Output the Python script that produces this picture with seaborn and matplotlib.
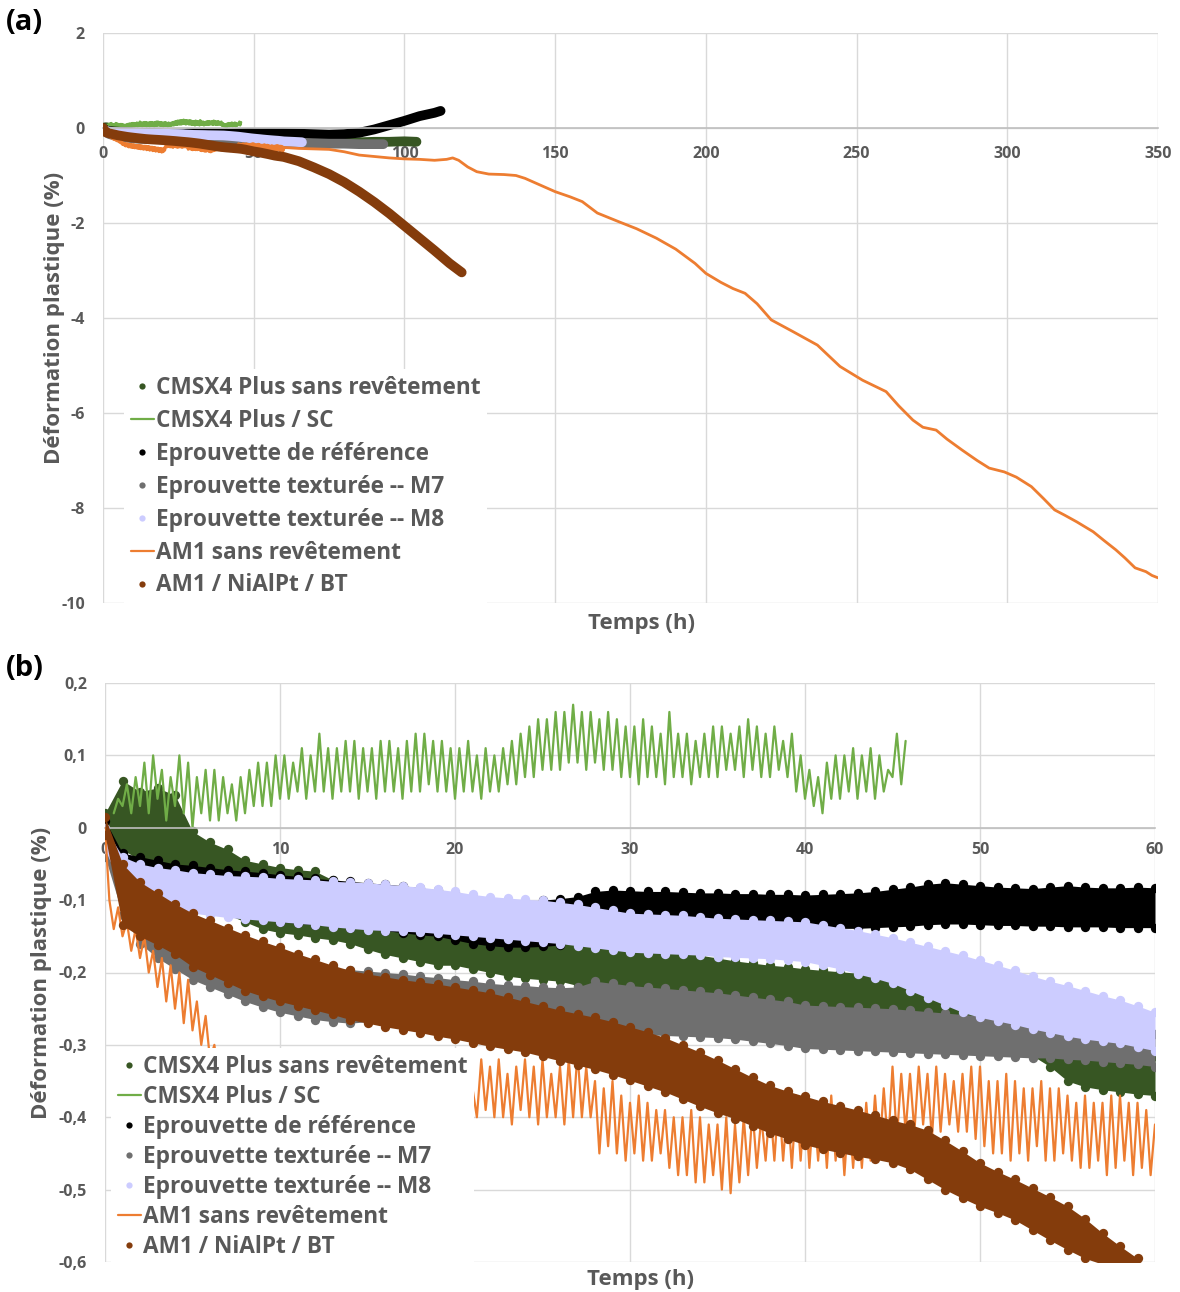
import numpy as np
import pandas as pd
import matplotlib
matplotlib.use("Agg")
import matplotlib.pyplot as plt
from matplotlib.lines import Line2D
import seaborn as sns

sns.set_theme(style="white")
plt.rcParams['font.family'] = ['Open Sans', 'DejaVu Sans']
plt.rcParams['font.weight'] = 'bold'

# ---------------- data ----------------
labels = ["CMSX4 Plus sans revêtement", "CMSX4 Plus / SC", "Eprouvette de référence",
          "Eprouvette texturée -- M7", "Eprouvette texturée -- M8",
          "AM1 sans revêtement", "AM1 / NiAlPt / BT"]
kinds = ["dot", "line", "dot", "dot", "dot", "line", "dot"]
colors = ["#375623", "#70AD47", "#000000", "#6F6F6F", "#CCCCFF", "#ED7D31", "#843C0C"]

t_hours = np.arange(0, 61)      # hourly readings, panel (b)
t_brown = np.arange(0, 60)

# upper / lower edge of each dotted band (%), read hour by hour
dg_hi = [0.02, 0.065, 0.05, 0.055, 0.045, -0.005, -0.02, -0.03, -0.045, -0.05,
         -0.055, -0.058, -0.06, -0.072, -0.08, -0.085, -0.09, -0.095, -0.1, -0.105,
         -0.11, -0.12, -0.13, -0.135, -0.14, -0.145, -0.15, -0.152, -0.155, -0.158,
         -0.16, -0.164, -0.168, -0.172, -0.176, -0.18, -0.184, -0.187, -0.19, -0.192,
         -0.195, -0.197, -0.199, -0.201, -0.203, -0.205, -0.21, -0.215, -0.22, -0.228,
         -0.235, -0.243, -0.25, -0.26, -0.275, -0.3, -0.305, -0.308, -0.31, -0.312,
         -0.315]
dg_lo = [-0.01, -0.03, -0.045, -0.06, -0.08, -0.1, -0.115, -0.12, -0.13, -0.14,
         -0.145, -0.148, -0.152, -0.155, -0.16, -0.168, -0.175, -0.18, -0.185, -0.19,
         -0.19, -0.195, -0.2, -0.205, -0.208, -0.21, -0.212, -0.218, -0.225, -0.228,
         -0.23, -0.233, -0.236, -0.239, -0.242, -0.245, -0.248, -0.25, -0.252, -0.254,
         -0.255, -0.257, -0.259, -0.261, -0.263, -0.265, -0.267, -0.268, -0.27, -0.275,
         -0.28, -0.29, -0.3, -0.315, -0.33, -0.35, -0.358, -0.362, -0.365, -0.368,
         -0.37]
ref_hi = [0.01, -0.035, -0.04, -0.045, -0.05, -0.052, -0.055, -0.058, -0.06, -0.062,
          -0.065, -0.067, -0.07, -0.072, -0.074, -0.076, -0.078, -0.08, -0.083, -0.086,
          -0.09, -0.095, -0.1, -0.1, -0.102, -0.1, -0.098, -0.095, -0.088, -0.086,
          -0.087, -0.088, -0.088, -0.089, -0.09, -0.09, -0.091, -0.091, -0.092, -0.092,
          -0.093, -0.092, -0.091, -0.09, -0.088, -0.085, -0.082, -0.078, -0.076, -0.078,
          -0.08, -0.082, -0.083, -0.084, -0.082, -0.08, -0.082, -0.083, -0.083, -0.082,
          -0.083]
ref_lo = [-0.01, -0.07, -0.085, -0.095, -0.1, -0.105, -0.11, -0.115, -0.12, -0.125,
          -0.13, -0.132, -0.134, -0.136, -0.138, -0.14, -0.142, -0.145, -0.148, -0.15,
          -0.155, -0.16, -0.163, -0.165, -0.165, -0.164, -0.162, -0.158, -0.145, -0.142,
          -0.14, -0.139, -0.139, -0.138, -0.138, -0.138, -0.137, -0.137, -0.137, -0.136,
          -0.137, -0.138, -0.139, -0.139, -0.138, -0.137, -0.136, -0.134, -0.133, -0.133,
          -0.134, -0.135, -0.135, -0.136, -0.136, -0.137, -0.137, -0.137, -0.138, -0.138,
          -0.138]
m7_hi = [-0.01, -0.06, -0.09, -0.11, -0.13, -0.145, -0.155, -0.163, -0.17, -0.175,
         -0.18, -0.185, -0.19, -0.193, -0.196, -0.198, -0.2, -0.202, -0.205, -0.207,
         -0.21, -0.212, -0.215, -0.217, -0.218, -0.22, -0.221, -0.22, -0.212, -0.215,
         -0.218, -0.22, -0.222, -0.224, -0.226, -0.228, -0.231, -0.234, -0.237, -0.24,
         -0.245, -0.246, -0.247, -0.248, -0.249, -0.25, -0.252, -0.254, -0.256, -0.258,
         -0.26, -0.262, -0.264, -0.266, -0.268, -0.27, -0.273, -0.276, -0.279, -0.282,
         -0.285]
m7_lo = [-0.04, -0.12, -0.16, -0.18, -0.195, -0.21, -0.22, -0.23, -0.24, -0.248,
         -0.255, -0.26, -0.265, -0.268, -0.27, -0.268, -0.266, -0.265, -0.265, -0.265,
         -0.265, -0.267, -0.27, -0.272, -0.274, -0.275, -0.276, -0.278, -0.28, -0.282,
         -0.285, -0.286, -0.287, -0.288, -0.289, -0.29, -0.292, -0.295, -0.298, -0.301,
         -0.305, -0.306, -0.307, -0.308, -0.309, -0.31, -0.311, -0.312, -0.313, -0.314,
         -0.315, -0.316, -0.317, -0.318, -0.318, -0.32, -0.321, -0.323, -0.325, -0.327,
         -0.33]
m8_hi = [0.0, -0.04, -0.05, -0.055, -0.058, -0.062, -0.064, -0.066, -0.067, -0.068,
         -0.07, -0.071, -0.072, -0.074, -0.075, -0.076, -0.078, -0.08, -0.082, -0.085,
         -0.088, -0.092, -0.095, -0.097, -0.099, -0.1, -0.103, -0.106, -0.11, -0.114,
         -0.118, -0.119, -0.12, -0.121, -0.123, -0.125, -0.126, -0.127, -0.128, -0.129,
         -0.13, -0.134, -0.138, -0.142, -0.147, -0.152, -0.158, -0.164, -0.17, -0.176,
         -0.183, -0.19, -0.197, -0.205, -0.212, -0.218, -0.225, -0.232, -0.238, -0.246,
         -0.255]
m8_lo = [-0.03, -0.085, -0.1, -0.108, -0.113, -0.118, -0.121, -0.124, -0.126, -0.128,
         -0.13, -0.132, -0.134, -0.137, -0.139, -0.141, -0.142, -0.143, -0.144, -0.146,
         -0.148, -0.15, -0.152, -0.154, -0.156, -0.158, -0.16, -0.163, -0.166, -0.169,
         -0.172, -0.173, -0.174, -0.175, -0.176, -0.178, -0.179, -0.18, -0.181, -0.183,
         -0.185, -0.19, -0.195, -0.202, -0.208, -0.215, -0.225, -0.235, -0.245, -0.255,
         -0.262, -0.267, -0.272, -0.278, -0.283, -0.288, -0.292, -0.295, -0.298, -0.303,
         -0.308]
bt_hi = [0.015, -0.05, -0.075, -0.09, -0.105, -0.118, -0.128, -0.138, -0.148, -0.157,
         -0.165, -0.174, -0.182, -0.19, -0.197, -0.202, -0.206, -0.21, -0.213, -0.216,
         -0.22, -0.224, -0.228, -0.234, -0.24, -0.246, -0.252, -0.257, -0.262, -0.268,
         -0.275, -0.282, -0.29, -0.3, -0.31, -0.321, -0.333, -0.345, -0.356, -0.364,
         -0.371, -0.378, -0.384, -0.39, -0.397, -0.404, -0.41, -0.418, -0.432, -0.447,
         -0.463, -0.475, -0.486, -0.498, -0.51, -0.523, -0.54, -0.56, -0.578, -0.595]
bt_lo = [-0.01, -0.135, -0.15, -0.162, -0.175, -0.192, -0.203, -0.214, -0.225, -0.233,
         -0.24, -0.246, -0.252, -0.258, -0.265, -0.27, -0.275, -0.279, -0.283, -0.288,
         -0.292, -0.297, -0.302, -0.306, -0.31, -0.316, -0.322, -0.328, -0.334, -0.341,
         -0.349, -0.357, -0.365, -0.375, -0.385, -0.394, -0.402, -0.412, -0.422, -0.43,
         -0.438, -0.444, -0.449, -0.454, -0.458, -0.463, -0.472, -0.486, -0.5, -0.512,
         -0.523, -0.532, -0.542, -0.556, -0.57, -0.583, -0.595, -0.603, -0.605, -0.605]

# CMSX4 Plus / SC, one reading every 15 min from 0.5 h to 45.75 h
sc_t = np.arange(0.5, 46.0, 0.25)
sc_vals = [0.02, 0.04,
           0.03, 0.06, 0.02, 0.07,  0.03, 0.09, 0.02, 0.1,  0.04, 0.08, 0.01, 0.07,
           0.03, 0.1, 0.02, 0.09,  0.0, 0.07, 0.02, 0.08,  0.01, 0.08, 0.01, 0.07,
           0.02, 0.06, 0.01, 0.07,  0.02, 0.08, 0.03, 0.09,  0.03, 0.09, 0.03, 0.1,
           0.04, 0.1, 0.04, 0.09,  0.05, 0.11, 0.04, 0.1,  0.05, 0.13, 0.05, 0.11,
           0.04, 0.11, 0.05, 0.12,  0.05, 0.12, 0.04, 0.11,  0.05, 0.11, 0.04, 0.12,
           0.05, 0.12, 0.05, 0.11,  0.04, 0.12, 0.05, 0.13,  0.05, 0.13, 0.06, 0.12,
           0.05, 0.12, 0.05, 0.11,  0.04, 0.11, 0.05, 0.12,  0.05, 0.1, 0.04, 0.11,
           0.05, 0.1, 0.05, 0.11,  0.06, 0.12, 0.06, 0.13,  0.07, 0.14, 0.07, 0.15,
           0.08, 0.15, 0.08, 0.16,  0.08, 0.16, 0.09, 0.17,  0.09, 0.16, 0.08, 0.16,
           0.09, 0.15, 0.08, 0.16,  0.08, 0.15, 0.07, 0.14,  0.07, 0.14, 0.06, 0.15,
           0.07, 0.14, 0.07, 0.13,  0.06, 0.16, 0.07, 0.13,  0.07, 0.13, 0.06, 0.12,
           0.07, 0.13, 0.07, 0.14,  0.07, 0.14, 0.08, 0.13,  0.08, 0.14, 0.07, 0.15,
           0.08, 0.14, 0.07, 0.13,  0.07, 0.14, 0.08, 0.12,  0.07, 0.13, 0.05, 0.1,
           0.04, 0.08, 0.03, 0.07,  0.02, 0.09, 0.04, 0.1,  0.04, 0.1, 0.05, 0.11,
           0.04, 0.1, 0.05, 0.11,  0.04, 0.1, 0.05, 0.08,  0.07, 0.13, 0.06, 0.12]

# AM1 sans revetement, one reading every 15 min from 0 h to 60 h
am1_t = np.arange(0, 60.01, 0.25)
am1_vals = [0.0, -0.1, -0.14, -0.11,  -0.15, -0.13, -0.17, -0.14,  -0.18, -0.15, -0.2, -0.17,
            -0.22, -0.18, -0.24, -0.19,  -0.25, -0.2, -0.27, -0.21,  -0.28, -0.24, -0.3, -0.26,
            -0.32, -0.3, -0.35, -0.31,  -0.36, -0.32, -0.38, -0.33,  -0.38, -0.33, -0.4, -0.34,
            -0.4, -0.34, -0.41, -0.35,  -0.41, -0.35, -0.42, -0.36,  -0.42, -0.36, -0.43, -0.36,
            -0.43, -0.37, -0.44, -0.37,  -0.44, -0.38, -0.45, -0.38,  -0.44, -0.38, -0.46, -0.39,
            -0.45, -0.39, -0.47, -0.4,  -0.46, -0.4, -0.48, -0.41,  -0.47, -0.41, -0.49, -0.42,
            -0.48, -0.42, -0.5, -0.43,  -0.49, -0.43, -0.51, -0.44,  -0.5, -0.42, -0.47, -0.38,
            -0.36, -0.4, -0.32, -0.39,  -0.33, -0.4, -0.32, -0.4,  -0.34, -0.41, -0.33, -0.39,
            -0.32, -0.4, -0.33, -0.41,  -0.32, -0.4, -0.34, -0.4,  -0.33, -0.41, -0.32, -0.4,
            -0.31, -0.4, -0.33, -0.4,  -0.35, -0.45, -0.36, -0.44,  -0.35, -0.45, -0.37, -0.46,
            -0.38, -0.45, -0.37, -0.46,  -0.38, -0.46, -0.39, -0.45,  -0.39, -0.47, -0.4, -0.48,
            -0.4, -0.48, -0.39, -0.49,  -0.4, -0.49, -0.41, -0.48,  -0.41, -0.5, -0.4, -0.505,
            -0.41, -0.49, -0.4, -0.48,  -0.39, -0.47, -0.4, -0.46,  -0.38, -0.46, -0.37, -0.46,
            -0.38, -0.47, -0.37, -0.46,  -0.37, -0.47, -0.38, -0.46,  -0.38, -0.47, -0.37, -0.46,
            -0.38, -0.48, -0.39, -0.47,  -0.39, -0.47, -0.38, -0.46,  -0.37, -0.45, -0.36, -0.44,
            -0.33, -0.43, -0.34, -0.42,  -0.34, -0.42, -0.33, -0.41,  -0.34, -0.43, -0.33, -0.42,
            -0.34, -0.41, -0.35, -0.42,  -0.34, -0.42, -0.33, -0.43,  -0.33, -0.44, -0.35, -0.45,
            -0.35, -0.45, -0.34, -0.46,  -0.35, -0.45, -0.36, -0.46,  -0.36, -0.44, -0.35, -0.46,
            -0.36, -0.46, -0.36, -0.45,  -0.37, -0.46, -0.38, -0.47,  -0.37, -0.47, -0.38, -0.46,
            -0.38, -0.48, -0.37, -0.47,  -0.37, -0.46, -0.38, -0.48,  -0.38, -0.47, -0.39, -0.48,
            -0.41]

# later part of each test, only visible on panel (a)
ref_ext_t = [65, 70, 75, 80, 85, 90, 95, 100, 105, 110, 112]
ref_ext = [-0.12, -0.13, -0.14, -0.13, -0.1, -0.03, 0.06, 0.15, 0.25, 0.32, 0.36]
dg_ext_t = [65, 70, 75, 80, 85, 90, 95, 100, 104]
dg_ext = [-0.33, -0.32, -0.32, -0.31, -0.3, -0.29, -0.29, -0.28, -0.29]
m7_ext_t = [65, 70, 75, 80, 85, 90, 93]
m7_ext = [-0.31, -0.32, -0.33, -0.33, -0.34, -0.34, -0.34]
m8_ext_t = [63, 66]
m8_ext = [-0.29, -0.3]
bt_ext_t = [60, 65, 70, 75, 80, 85, 90, 95, 100, 105, 110, 115, 119]
bt_ext = [-0.61, -0.7, -0.83, -0.97, -1.14, -1.34, -1.56, -1.8, -2.06, -2.32, -2.58, -2.85, -3.04]
am1_ext_t = [65, 70, 75, 80, 85, 90, 95, 100, 105, 110, 114, 116, 118, 121, 124, 128, 133,
             137, 140, 145, 150, 155, 159, 164, 171, 177, 183.6, 190, 196.4, 200, 205, 209,
             213, 217, 221.7, 229, 237, 244.5, 252, 259.8, 264, 268.7, 272, 276.4, 280, 285,
             290, 294, 299, 303, 308, 312, 315.7, 319, 323, 328.5, 332, 336, 339, 342.4, 346,
             348, 350]
am1_ext = [-0.43, -0.44, -0.45, -0.5, -0.57, -0.6, -0.63, -0.65, -0.66, -0.68, -0.66, -0.63,
           -0.68, -0.82, -0.92, -0.97, -0.98, -1.0, -1.06, -1.2, -1.34, -1.45, -1.55, -1.79,
           -1.97, -2.12, -2.32, -2.55, -2.85, -3.06, -3.25, -3.38, -3.48, -3.7, -4.04, -4.29,
           -4.57, -5.02, -5.31, -5.55, -5.85, -6.15, -6.3, -6.36, -6.55, -6.78, -7.0, -7.16,
           -7.24, -7.35, -7.55, -7.8, -8.04, -8.15, -8.29, -8.5, -8.68, -8.88, -9.05, -9.26,
           -9.34, -9.42, -9.47]

xticks_a = [0, 50, 100, 150, 200, 250, 300, 350]
yticks_a = [-10, -8, -6, -4, -2, 0, 2]
xticks_b = [0, 10, 20, 30, 40, 50, 60]
yticks_b = [-0.6, -0.5, -0.4, -0.3, -0.2, -0.1, 0, 0.1, 0.2]
ytick_labels_b = ["-0,6", "-0,5", "-0,4", "-0,3", "-0,2", "-0,1", "0", "0,1", "0,2"]

GREY = "#595959"

# ---------------- helpers ----------------
def band(ax, t, hi, lo, color, z):
    df = pd.DataFrame({"t": np.concatenate([t, t]), "v": np.concatenate([hi, lo])})
    sns.lineplot(data=df, x="t", y="v", ax=ax, color=color, lw=0, errorbar=("pi", 100),
                 err_kws={"alpha": 1, "lw": 0, "zorder": z}, zorder=z, legend=False)
    sns.scatterplot(data=df, x="t", y="v", ax=ax, color=color, s=45, linewidth=0,
                    zorder=z + 0.1, legend=False)


def line(ax, t, v, color, z, lw=1.6):
    sns.lineplot(x=t, y=v, ax=ax, color=color, lw=lw, errorbar=None, sort=False,
                 zorder=z, legend=False)


def style(ax, xt, yt, ylab, xpad, lab_x, lab_y):
    ax.set_xticks(xt)
    ax.set_yticks(yt)
    ax.set_yticklabels(ylab)
    ax.grid(True, color="#D9D9D9", lw=1)
    for s in ["left", "right", "top"]:
        ax.spines[s].set_visible(False)
    ax.spines["bottom"].set_position(("data", 0))
    ax.spines["bottom"].set_color("#BFBFBF")
    ax.spines["bottom"].set_linewidth(1.2)
    ax.tick_params(axis="x", length=0, labelsize=11.5, labelcolor=GREY, pad=xpad)
    ax.tick_params(axis="y", length=0, labelsize=11.5, labelcolor=GREY, pad=13)
    ax.set_axisbelow(True)
    ax.set_ylabel("Déformation plastique (%)", fontsize=16, color=GREY, fontweight="bold")
    ax.set_xlabel("Temps (h)", fontsize=16, color=GREY, fontweight="bold")
    ax.yaxis.set_label_coords(lab_x, 0.5)
    ax.xaxis.set_label_coords(0.51, lab_y)


def add_legend(ax, anchor, spacing):
    handles = []
    for lab, k, c in zip(labels, kinds, colors):
        if k == "dot":
            handles.append(Line2D([], [], ls="none", marker="o", markersize=4.5,
                                  markerfacecolor=c, markeredgewidth=0))
        else:
            handles.append(Line2D([], [], color=c, lw=1.6))
    leg = ax.legend(handles, labels, loc="upper left", bbox_to_anchor=anchor,
                    fontsize=16.3, frameon=True, facecolor="white", edgecolor="none",
                    framealpha=1, fancybox=False, borderpad=0.3, borderaxespad=0,
                    handlelength=1.0, handletextpad=0.1, labelspacing=spacing)
    for txt in leg.get_texts():
        txt.set_color(GREY)
        txt.set_fontweight("bold")
    leg.set_zorder(10)


fig = plt.figure(figsize=(11.8, 12.92), dpi=100)
ax_a = fig.add_axes([103 / 1180, 1 - 603 / 1292, 1055 / 1180, 570 / 1292])
ax_b = fig.add_axes([105 / 1180, 1 - 1262 / 1292, 1050 / 1180, 579 / 1292])

# ---------------- panel (a) ----------------
def mid(hi, lo):
    return (np.array(hi) + np.array(lo)) / 2

line(ax_a, np.concatenate([t_hours, dg_ext_t]), np.concatenate([mid(dg_hi, dg_lo), dg_ext]), colors[0], 2, lw=7)
line(ax_a, sc_t, sc_vals, colors[1], 2.1, lw=2)
line(ax_a, np.concatenate([t_hours, ref_ext_t]), np.concatenate([mid(ref_hi, ref_lo), ref_ext]), colors[2], 2.2, lw=7)
line(ax_a, np.concatenate([t_hours, m7_ext_t]), np.concatenate([mid(m7_hi, m7_lo), m7_ext]), colors[3], 2.3, lw=7)
line(ax_a, np.concatenate([t_hours, m8_ext_t]), np.concatenate([mid(m8_hi, m8_lo), m8_ext]), colors[4], 2.4, lw=7)
line(ax_a, np.concatenate([am1_t, am1_ext_t]), np.concatenate([am1_vals, am1_ext]), colors[5], 2.5, lw=2)
line(ax_a, np.concatenate([t_brown, bt_ext_t]), np.concatenate([mid(bt_hi, bt_lo), bt_ext]), colors[6], 2.6, lw=7)
for ln in ax_a.get_lines():
    ln.set_solid_capstyle("round")

ax_a.set_xlim(0, 350)
ax_a.set_ylim(-10, 2)
style(ax_a, xticks_a, yticks_a, [str(v) for v in yticks_a], 13, -0.036, -0.018)
add_legend(ax_a, (0.02, 0.4105), 0.395)

# ---------------- panel (b) ----------------
band(ax_b, t_hours, dg_hi, dg_lo, colors[0], 2)
line(ax_b, sc_t, sc_vals, colors[1], 2.2)
band(ax_b, t_hours, ref_hi, ref_lo, colors[2], 2.4)
band(ax_b, t_hours, m7_hi, m7_lo, colors[3], 2.6)
band(ax_b, t_hours, m8_hi, m8_lo, colors[4], 2.8)
line(ax_b, am1_t, am1_vals, colors[5], 3.0)
band(ax_b, t_brown, bt_hi, bt_lo, colors[6], 3.2)

ax_b.set_xlim(0, 60)
ax_b.set_ylim(-0.6, 0.2)
style(ax_b, xticks_b, yticks_b, ytick_labels_b, 10, -0.05, -0.012)
add_legend(ax_b, (0.006, 0.3695), 0.265)

fig.text(6 / 1180, 1 - 22 / 1292, "(a)", fontsize=21, fontweight="bold", color="black", va="center")
fig.text(6 / 1180, 1 - 668 / 1292, "(b)", fontsize=21, fontweight="bold", color="black", va="center")

fig.savefig("out.png", dpi=100)
